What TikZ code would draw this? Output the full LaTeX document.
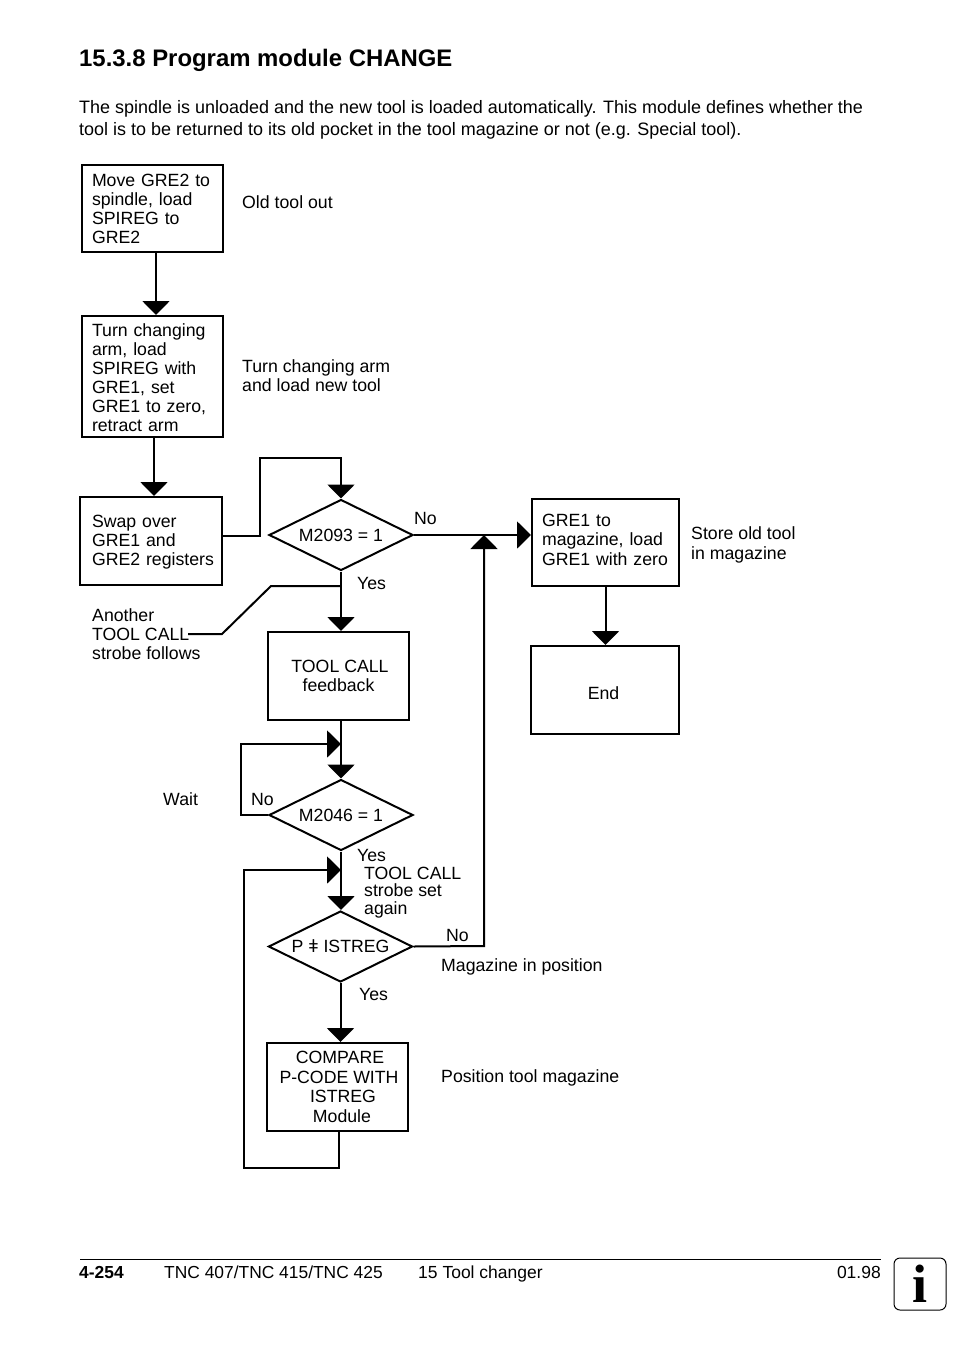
\documentclass[tikz,border=0pt]{standalone}
\usepackage{fontspec}
\setmainfont{Liberation Sans}
\newfontfamily\iconfont{Liberation Serif}
\usetikzlibrary{arrows.meta,shapes.geometric}
\newcommand{\bodyfont}{\fontsize{17.7}{19}\selectfont}
\tikzstyle{box}=[draw, line width=2pt, rectangle, inner ysep=0pt, inner xsep=10pt, align=left, font=\bodyfont]
\tikzstyle{cbox}=[box, align=center]
\tikzstyle{test}=[draw, line width=2pt, diamond, shape aspect=2.03, inner sep=0pt, minimum width=144pt, minimum height=71pt, font=\bodyfont]
\tikzstyle{lbl}=[inner sep=0pt, anchor=west, align=left, font=\bodyfont]
\tikzstyle{foot}=[lbl, anchor=base west, font=\fontsize{17.5}{19}\selectfont]
\tikzstyle{flow}=[line width=2pt, -{Triangle[length=14pt,width=27pt]}]
\tikzstyle{wire}=[line width=2pt]

\begin{document}
\begin{tikzpicture}[x=1pt,y=-1pt]
			\useasboundingbox (0,0) rectangle (954,1346);
			\node[lbl, font=\bfseries\fontsize{23.9}{26}\selectfont] (title) at (79,60) {15.3.8 Program module CHANGE};
			\node[lbl, font=\fontsize{17.98}{19}\selectfont] (intro1) at (79,109) {The spindle is unloaded and the new tool is loaded automatically. This module defines whether the};
			\node[lbl, font=\fontsize{17.98}{19}\selectfont] (intro2) at (79,131) {tool is to be returned to its old pocket in the tool magazine or not (e.g. Special tool).};
			% boxes
			\node[box, text width=121pt, minimum width=141pt, minimum height=87pt] (gre2) at (152.5,208.5) {\rule{0pt}{14pt}Move GRE2 to\\spindle, load\\SPIREG to\\GRE2};
			\node[box, text width=121pt, minimum width=141pt, minimum height=121pt] (arm) at (152.5,376.5) {\rule{0pt}{15pt}Turn changing\\arm, load\\SPIREG with\\GRE1, set\\GRE1 to zero,\\retract arm};
			\node[box, text width=118pt, inner xsep=12pt, minimum width=142pt, minimum height=88pt] (swap) at (151,541) {\rule{0pt}{15pt}Swap over\\GRE1 and\\[0.5pt]\mbox{GRE2 registers}};
			\node[cbox, minimum width=141pt, minimum height=88pt] (feedback) at (338.5,676) {\hspace*{3pt}TOOL CALL\\feedback};
			\node[cbox, minimum width=141pt, minimum height=88pt] (compare) at (337.5,1087) {\hspace*{5pt}COMPARE\\[0.5pt]\hspace*{3pt}P-CODE WITH\\\hspace*{11pt}ISTREG\\[1pt]\hspace*{9pt}Module};
			\node[box, text width=127pt, minimum width=147pt, minimum height=87pt] (store) at (605.5,542.5) {GRE1 to\\magazine, load\\[0.5pt]GRE1 with zero\rule[-5pt]{0pt}{5pt}};
			\node[cbox, minimum width=148pt, minimum height=88pt] (end) at (605,690) {\rule{0pt}{19pt}End\hspace*{3pt}};
			% tests
			\node[test] (m2093) at (341,535) {M2093 = 1};
			\node[test] (m2046) at (341,815) {M2046 = 1};
			\node[test] (istreg) at (340.5,946.5) {P ǂ ISTREG};
			% bends and joins
			\coordinate (x1) at (156,0);
			\coordinate (x2) at (154,0);
			\coordinate (c1) at (260,536);
			\coordinate (c2) at (260,458);
			\coordinate (c3) at (222,634);
			\coordinate (c4) at (271,586);
			\coordinate (c5) at (341,586);
			\coordinate (c6) at (188,634);
			\coordinate (c7) at (241,815);
			\coordinate (c8) at (241,744);
			\coordinate (c9) at (341,744);
			\coordinate (c10) at (339,1168);
			\coordinate (c11) at (244,1168);
			\coordinate (c12) at (244,870);
			\coordinate (c13) at (341,870);
			\coordinate (c14) at (484,946);
			\coordinate (c15) at (484,535);
			\coordinate (c16) at (339,1131);
			% connectors
			\draw[flow] (gre2.south -| x1) -- (arm.north -| x1);
			\draw[flow] (arm.south -| x2) -- (swap.north -| x2);
			\draw[flow] (c1 -| swap.east) -- (c1) -- (c2) -- (c2 -| m2093.north) -- (m2093.north);
			\draw[flow] (m2093.south) -- (feedback.north -| m2093.south);
			\draw[flow] (m2093.east) -- (store.west |- m2093.east);
			\draw[wire] (c6) -- (c3) -- (c4) -- (c5);
			\draw[flow] (feedback.south -| m2046.north) -- (m2046.north);
			\draw[flow] (m2046.west) -- (c7) -- (c8) -- (c9);
			\draw[flow] (m2046.south) -- (m2046.south |- istreg.north);
			\draw[flow] (c16) -- (c10) -- (c11) -- (c12) -- (c13);
			\draw[flow] (istreg.south) -- (compare.north -| istreg.south);
			\draw[flow] (istreg.east) -- (c14) -- (c15);
			\draw[flow] (store.south) -- (end.north -| store.south);
			% side notes
			\node[lbl] (n1) at (242,202) {Old tool out};
			\node[lbl] (n2) at (242,376) {Turn changing arm\\and load new tool};
			\node[lbl] (n3) at (691,544.5) {Store old tool\\[1pt]in magazine};
			\node[lbl] (n4) at (92,634.5) {Another\\TOOL CALL\\strobe follows};
			\node[lbl] (n5) at (163,799) {Wait};
			\node[lbl] (n6) at (364,892.5) {TOOL CALL\\[-1.5pt]strobe set\\[-1.5pt]again};
			\node[lbl] (n7) at (441,967) {Magazine in position};
			\node[lbl] (n8) at (441,1078) {Position tool magazine};
			\node[lbl] (no1) at (414,518) {No};
			\node[lbl] (yes1) at (357,583) {Yes};
			\node[lbl] (no2) at (251,799) {No};
			\node[lbl] (yes2) at (357,855) {Yes};
			\node[lbl] (no3) at (446,935) {No};
			\node[lbl] (yes3) at (359,994) {Yes};
			% footer
			\coordinate (r1) at (80,1259);
			\coordinate (r2) at (881,1259);
			\draw[line width=1pt] (r1) -- (r2);
			\node[foot, font=\bfseries\fontsize{17.4}{19}\selectfont] (page) at (79,1278) {4-254};
			\node[foot, font=\fontsize{17.4}{19}\selectfont] (tnc) at (164,1278) {TNC 407/TNC 415/TNC 425};
			\node[foot] (chap) at (418,1278) {15 Tool changer};
			\node[foot, anchor=base east] (date) at (881,1278) {01.98};
			\node[draw, line width=1pt, rounded corners=6pt, minimum width=52pt, minimum height=52pt, inner sep=0pt, font=\iconfont\bfseries\fontsize{54}{54}\selectfont] (info) at (920,1284) {i};
		\end{tikzpicture}
\end{document}
